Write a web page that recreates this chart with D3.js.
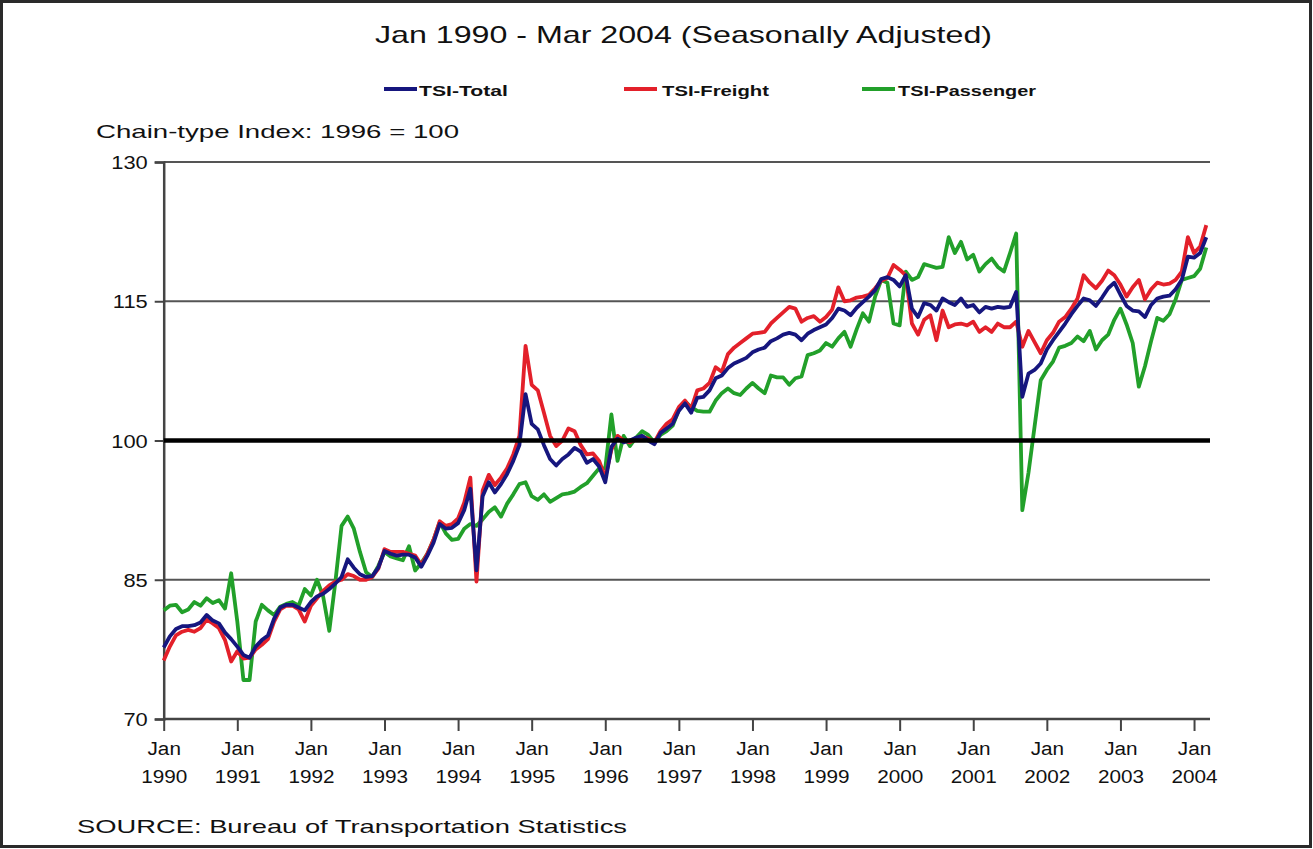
<!DOCTYPE html>
<html><head><meta charset="utf-8">
<script src="https://cdn.jsdelivr.net/npm/d3@7"></script>
<style>body{margin:0;background:#fff}svg{display:block}text{font-family:"Liberation Sans",Arial,sans-serif;fill:#111}</style>
</head><body><svg id="c" width="1313" height="849"></svg>
<script>
const titleText = "Jan 1990 - Mar 2004 (Seasonally Adjusted)";
const yAxisTitle = "Chain-type Index: 1996 = 100";
const sourceText = "SOURCE: Bureau of Transportation Statistics";
const seriesNames = ["TSI-Total", "TSI-Freight", "TSI-Passenger"];
const tickYears = [1990,1991,1992,1993,1994,1995,1996,1997,1998,1999,2000,2001,2002,2003,2004];
const yTicks = [70, 85, 100, 115, 130];
// monthly values, Jan 1990 .. Mar 2004 (171 months)
const total = [
77.7,78.9,79.7,80.0,80.0,80.1,80.4,81.2,80.6,80.3,79.3,78.6,
77.8,76.9,76.6,77.8,78.5,79.0,80.8,82.0,82.3,82.3,82.0,81.7,
82.6,83.2,83.5,84.0,84.6,85.3,87.2,86.3,85.6,85.3,85.4,86.3,
88.1,87.8,87.6,87.7,87.7,87.4,86.4,87.6,89.0,91.0,90.5,90.6,
91.1,92.5,94.8,86.0,94.0,95.5,94.4,95.3,96.4,97.8,99.5,105.0,
101.8,101.2,99.5,98.0,97.3,98.0,98.5,99.2,98.8,97.6,98.0,97.2,
95.5,99.3,100.2,99.8,100.0,100.3,100.5,100.0,99.6,100.8,101.3,101.8,
103.2,104.0,103.0,104.6,104.7,105.4,106.7,107.0,107.8,108.3,108.6,108.9,
109.5,109.8,110.0,110.7,111.0,111.4,111.6,111.4,110.8,111.5,111.9,112.2,
112.5,113.2,114.2,114.0,113.5,114.3,114.9,115.5,116.2,117.4,117.6,117.3,
116.6,117.8,114.2,113.3,114.8,114.6,114.0,115.3,114.9,114.6,115.3,114.4,
114.6,113.8,114.4,114.2,114.4,114.3,114.4,116.0,104.7,107.2,107.6,108.3,
109.8,110.8,111.7,112.6,113.6,114.5,115.3,115.1,114.5,115.4,116.4,117.0,
115.7,114.5,114.0,113.9,113.3,114.6,115.3,115.5,115.6,116.3,117.3,119.8,
119.7,120.2,121.9];
const freight = [
76.3,77.8,79.0,79.4,79.6,79.4,79.8,80.7,80.3,79.8,78.5,76.2,
77.3,76.5,76.6,77.5,78.0,78.6,80.5,81.8,82.2,82.2,81.8,80.5,
82.2,83.0,83.8,84.4,84.8,85.0,85.6,85.4,85.0,85.0,85.3,86.2,
88.3,88.0,88.0,88.0,87.8,87.6,86.6,87.8,89.3,91.3,90.8,91.0,
91.6,93.3,96.0,84.8,94.6,96.3,95.2,96.0,97.0,98.5,100.5,110.2,
106.0,105.4,103.0,100.5,99.4,100.0,101.3,101.0,99.5,98.5,98.6,97.8,
96.0,99.0,100.5,100.0,99.8,100.1,100.4,100.2,99.8,101.0,101.8,102.3,
103.6,104.3,103.4,105.4,105.6,106.2,107.9,107.4,109.3,110.0,110.5,111.0,
111.5,111.6,111.7,112.6,113.2,113.8,114.4,114.2,112.8,113.2,113.4,112.8,
113.3,114.1,116.5,115.0,115.1,115.4,115.5,115.7,116.4,117.2,117.5,118.9,
118.4,117.8,112.6,111.4,113.0,113.5,110.8,114.0,112.2,112.5,112.6,112.4,
112.8,111.7,112.2,111.7,112.6,112.2,112.2,112.8,110.1,111.8,110.6,109.4,
110.8,111.6,112.8,113.3,114.2,115.3,117.8,117.0,116.4,117.2,118.3,117.8,
116.8,115.5,116.5,117.3,115.2,116.3,117.0,116.8,116.9,117.3,118.2,121.9,
120.2,120.9,123.2];
const passenger = [
81.7,82.2,82.3,81.5,81.8,82.6,82.2,83.0,82.5,82.8,81.9,85.7,
80.5,74.2,74.2,80.5,82.3,81.7,81.2,82.1,82.4,82.6,82.2,84.0,
83.3,85.0,83.2,79.5,84.8,90.8,91.8,90.5,88.0,85.8,85.3,86.5,
88.0,87.5,87.3,87.1,88.6,86.0,86.8,87.8,89.3,91.2,90.0,89.3,
89.4,90.5,91.0,90.8,91.5,92.3,92.8,91.8,93.2,94.2,95.3,95.5,
94.0,93.6,94.2,93.4,93.8,94.2,94.3,94.5,95.0,95.4,96.2,97.0,
97.0,102.8,97.8,100.5,99.4,100.3,101.0,100.6,99.8,100.6,101.0,101.6,
103.3,104.2,103.6,103.2,103.1,103.1,104.3,105.1,105.6,105.1,104.9,105.6,
106.2,105.6,105.1,107.0,106.8,106.8,106.0,106.7,106.9,109.2,109.4,109.7,
110.5,110.1,111.0,111.7,110.1,112.0,113.7,112.8,115.5,117.3,117.0,112.6,
112.4,118.2,117.3,117.6,119.0,118.8,118.6,118.7,121.9,120.2,121.4,119.5,
120.0,118.2,119.0,119.6,118.7,118.2,120.2,122.3,92.5,96.5,101.5,106.5,
107.6,108.5,110.0,110.2,110.5,111.2,110.7,111.8,109.8,110.8,111.4,113.0,
114.2,112.5,110.5,105.8,108.0,110.7,113.2,112.9,113.6,115.2,117.3,117.5,
117.7,118.5,120.8];
const colors = ["#16167e", "#e3202a", "#22a02a"];

const svg = d3.select("#c");
svg.append("rect").attr("x",0).attr("y",0).attr("width",1313).attr("height",849).attr("fill","#fff");
svg.append("rect").attr("x",1.5).attr("y",1.5).attr("width",1309).attr("height",845)
  .attr("fill","none").attr("stroke","#2a2a2a").attr("stroke-width",3);

const x = d3.scaleLinear().domain([0, 170]).range([163.7, 1206.3]);
const y = d3.scaleLinear().domain([70, 130]).range([719, 162]);
const xEnd = 1210;

function fitText(sel, w){ sel.attr("textLength", w).attr("lengthAdjust","spacingAndGlyphs"); return sel; }

// title
fitText(svg.append("text").attr("x",375).attr("y",43).attr("font-size",24).text(titleText), 617);

// legend
const legX = [[384,419,89],[624,662,107],[862,898,138]];
seriesNames.forEach((n,i)=>{
  svg.append("line").attr("x1",legX[i][0]).attr("x2",legX[i][0]+33).attr("y1",89).attr("y2",89)
    .attr("stroke",colors[i]).attr("stroke-width",4);
  fitText(svg.append("text").attr("x",legX[i][1]).attr("y",96).attr("font-size",15).attr("font-weight","bold").text(n), legX[i][2]);
});

fitText(svg.append("text").attr("x",96).attr("y",138).attr("font-size",19).text(yAxisTitle), 363);

// gridlines (under series)
const g = svg.append("g");
g.selectAll("line.grid").data(yTicks.filter(v=>v!==100 && v!==70)).join("line")
  .attr("x1",x(0)).attr("x2",xEnd).attr("y1",d=>y(d)).attr("y2",d=>y(d))
  .attr("stroke","#555").attr("stroke-width",2);

// y axis
const yAxis = svg.append("g").attr("transform",`translate(${x(0)},0)`)
  .call(d3.axisLeft(y).tickValues(yTicks).tickSize(9).tickFormat(d3.format("d")));
yAxis.select(".domain").attr("stroke","#444").attr("stroke-width",2.5);
yAxis.selectAll(".tick line").attr("stroke","#444").attr("stroke-width",2);
yAxis.selectAll(".tick text").attr("font-size",19).attr("font-family","Liberation Sans, Arial, sans-serif")
  .attr("fill","#111").attr("x",-16).attr("dy","0.35em")
  .each(function(){ const t=d3.select(this); const w=this.getComputedTextLength(); t.attr("textLength",w*1.15).attr("lengthAdjust","spacingAndGlyphs"); });

// x axis
const xAxis = svg.append("g").attr("transform",`translate(0,${y(70)})`)
  .call(d3.axisBottom(x).tickValues(tickYears.map((yy)=> (yy-1990)*12)).tickSize(12).tickFormat(""));
xAxis.select(".domain").attr("stroke","#444").attr("stroke-width",2.5).attr("d",`M${x(0)},0H${xEnd}`);
xAxis.selectAll(".tick line").attr("stroke","#444").attr("stroke-width",2);
xAxis.selectAll(".tick").each(function(d,i){
  const t = d3.select(this);
  const a = t.append("text").attr("y",36).attr("text-anchor","middle").attr("font-size",18).attr("fill","#111").text("Jan");
  a.attr("textLength", a.node().getComputedTextLength()*1.15).attr("lengthAdjust","spacingAndGlyphs");
  const b = t.append("text").attr("y",64).attr("text-anchor","middle").attr("font-size",18).attr("fill","#111").text(tickYears[i]);
  b.attr("textLength", b.node().getComputedTextLength()*1.15).attr("lengthAdjust","spacingAndGlyphs");
});

// series
const line = d3.line().x((d,i)=>x(i)).y(d=>y(d));
const seriesData = [total, freight, passenger];
[2,1,0].forEach(i=>{
  svg.append("path").attr("d", line(seriesData[i])).attr("fill","none")
    .attr("stroke",colors[i]).attr("stroke-width",3.8).attr("stroke-linejoin","round");
});

// 100 line on top
svg.append("line").attr("x1",x(0)).attr("x2",xEnd).attr("y1",y(100)).attr("y2",y(100))
  .attr("stroke","#000").attr("stroke-width",4.5);

fitText(svg.append("text").attr("x",77).attr("y",833).attr("font-size",19).text(sourceText), 550);
</script></body></html>
